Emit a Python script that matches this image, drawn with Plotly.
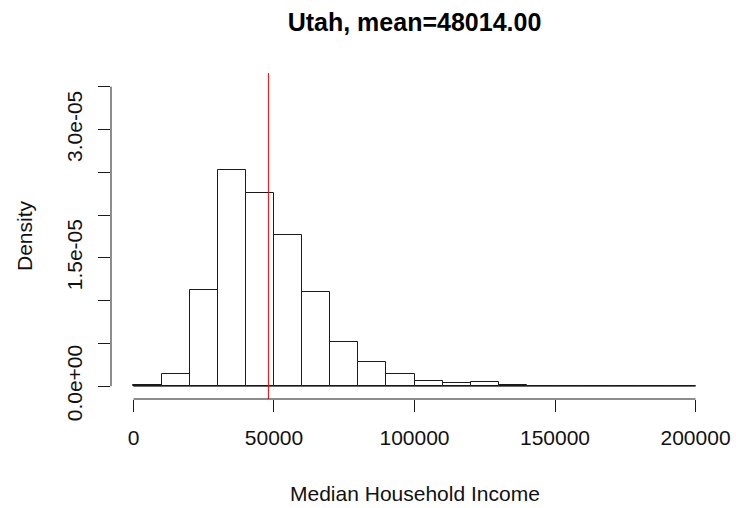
import plotly.graph_objects as go

# Histogram of county median household income, Utah (density scale)
bin_edges = [0, 10000, 20000, 30000, 40000, 50000, 60000, 70000, 80000, 90000, 100000,
             110000, 120000, 130000, 140000, 150000, 160000, 170000, 180000, 190000, 200000]
density = [1.2e-7, 1.40e-6, 1.126e-5, 2.530e-5, 2.260e-5, 1.762e-5, 1.096e-5, 5.18e-6,
           2.81e-6, 1.40e-6, 5.8e-7, 3.2e-7, 4.3e-7, 1.2e-7, 0, 0, 0, 0, 0, 0]
mean_income = 48014.00

x_ticks = [0, 50000, 100000, 150000, 200000]
x_tick_text = ["0", "50000", "100000", "150000", "200000"]
y_ticks = [0, 5e-6, 1e-5, 1.5e-5, 2e-5, 2.5e-5, 3e-5, 3.5e-5]
y_tick_text = ["0.0e+00", "", "", "1.5e-05", "", "", "3.0e-05", ""]

centers = [(a + b) / 2 for a, b in zip(bin_edges[:-1], bin_edges[1:])]
widths = [b - a for a, b in zip(bin_edges[:-1], bin_edges[1:])]

FONT = "Liberation Sans, Arial, sans-serif"
INK = "#1a1a1a"

fig = go.Figure()

# baseline under all bins (empty bins draw as a flat line)
fig.add_trace(go.Scatter(
    x=[bin_edges[0], bin_edges[-1]], y=[0, 0], mode="lines",
    line=dict(color=INK, width=1), hoverinfo="skip", showlegend=False,
))

fig.add_trace(go.Bar(
    x=centers, y=density, width=widths,
    marker=dict(color="white", line=dict(color=INK, width=1)),
    showlegend=False,
))

# mean line spanning the plotting region
fig.add_shape(type="line", xref="x", yref="paper", x0=mean_income, x1=mean_income,
              y0=0, y1=1, line=dict(color="#ff0000", width=1))

# detached axis lines, spanning only the tick range
fig.add_shape(type="line", xref="x", yref="paper", x0=x_ticks[0], x1=x_ticks[-1],
              y0=0, y1=0, line=dict(color=INK, width=1))
fig.add_shape(type="line", xref="paper", yref="y", x0=0, x1=0,
              y0=y_ticks[0], y1=y_ticks[-1], line=dict(color=INK, width=1))

fig.update_layout(
    width=736, height=508,
    margin=dict(l=111, r=18, t=73, b=109, autoexpand=False),
    paper_bgcolor="white", plot_bgcolor="white",
    font=dict(family=FONT, size=21, color="#111111"),
    bargap=0,
    title=dict(text="<b>Utah, mean=48014.00</b>", x=0.5, xref="paper",
               y=1 - 22 / 508, yref="container", yanchor="middle",
               font=dict(family=FONT, size=25, color="#000000")),
    xaxis=dict(range=[-8000, 208000], showgrid=False, zeroline=False, showline=False,
               automargin=False,
               tickmode="array", tickvals=x_ticks, ticktext=x_tick_text,
               ticks="outside", ticklen=12, tickwidth=1, tickcolor=INK,
               ticklabelstandoff=8),
    yaxis=dict(range=[-1.5e-6, 3.66e-5], showgrid=False, zeroline=False, showline=False,
               automargin=False,
               tickmode="array", tickvals=y_ticks, ticktext=y_tick_text,
               ticks="outside", ticklen=12, tickwidth=1, tickcolor=INK,
               tickangle=-90, ticklabelstandoff=8),
    annotations=[
        dict(text="Median Household Income", xref="paper", yref="paper", x=0.5, y=0,
             yanchor="middle", yshift=-94, showarrow=False,
             font=dict(family=FONT, size=21, color="#111111")),
        dict(text="Density", xref="paper", yref="paper", x=0, y=0.5,
             xanchor="center", xshift=-87, textangle=-90, showarrow=False,
             font=dict(family=FONT, size=21, color="#111111")),
    ],
)

fig.write_html("out.html")
